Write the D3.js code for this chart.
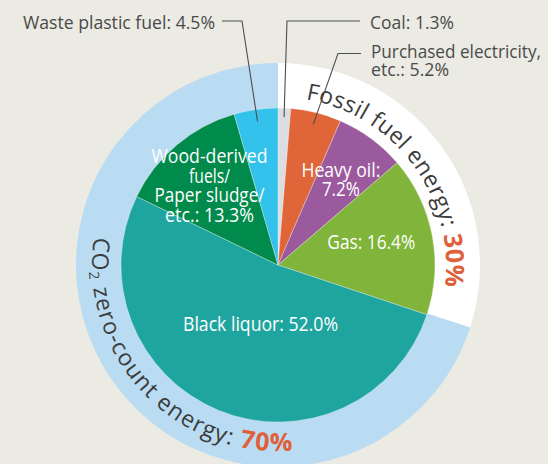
<!DOCTYPE html>
<html>
<head>
<meta charset="utf-8">
<script src="https://cdn.jsdelivr.net/npm/d3@7"></script>
<style>
  body { margin: 0; background: #ebeae3; }
  svg { display: block; font-family: "Open Sans", sans-serif; }
</style>
</head>
<body>
<script>
// energy sources (%), clockwise from 12 o'clock
const sources = ["Coal", "Purchased electricity, etc.", "Heavy oil", "Gas", "Black liquor", "Wood-derived fuels/Paper sludge/etc.", "Waste plastic fuel"];
const shares = [1.3, 5.2, 7.2, 16.4, 52.0, 13.3, 4.5];
const sourceColors = ["#dcdde0", "#e0663a", "#9a5a9d", "#80b43a", "#1fa5a0", "#008a4b", "#32c2ec"];

// outer ring groups (%)
const groups = ["Fossil fuel energy", "CO2 zero-count energy"];
const groupShares = [30, 70];
const groupColors = ["#ffffff", "#badcf3"];

const width = 548, height = 464;
const cx = 278, cy = 265;
const rPie = 157, rRing = 202;
const deg = Math.PI / 180;
const pct = v => d3.format(".1f")(v) + "%";

const svg = d3.select("body")
    .append("svg")
    .attr("width", width)
    .attr("height", height)

svg.append("rect")
    .attr("width", width)
    .attr("height", height)
    .attr("fill", "#ebeae3")

const g = svg.append("g")
    .attr("transform", "translate(" + cx + "," + cy + ")")

const pie = d3.pie().sort(null).value(d => d)

// outer ring
const ringArcs = pie(groupShares)
g.selectAll(".ring")
    .data(ringArcs)
    .enter()
    .append("path")
    .attr("class", "ring")
    .attr("d", d3.arc().innerRadius(rPie - 1).outerRadius(rRing))
    .attr("fill", (d, i) => groupColors[i])

// pie slices
const arcs = pie(shares)
g.selectAll(".slice")
    .data(arcs)
    .enter()
    .append("path")
    .attr("class", "slice")
    .attr("d", d3.arc().innerRadius(0).outerRadius(rPie))
    .attr("fill", (d, i) => sourceColors[i])
    .attr("stroke", "rgba(255,255,255,0.5)")
    .attr("stroke-width", 0.6)

const mid = d => (d.startAngle + d.endAngle) / 2

// labels inside slices: radius from centre, angle nudge (deg), width of each line
const insideLabels = [
    { i: 2, r: 106, nudge: 0, lines: ["Heavy oil:", pct(shares[2])], w: [79, 38] },
    { i: 3, r: 96, nudge: -2.5, lines: ["Gas: " + pct(shares[3])], w: [88] },
    { i: 4, r: 61.5, nudge: -5.6, lines: ["Black liquor: " + pct(shares[4])], w: [155] },
    { i: 5, r: 105, nudge: -0.5, lines: ["Wood-derived", "fuels/", "Paper sludge/", "etc.: " + pct(shares[5])], w: [116, 41, 110, 89] }
]
const lineH = 19.6

insideLabels.forEach(lab => {
    const [x, y] = d3.pointRadial(mid(arcs[lab.i]) + lab.nudge * deg, lab.r)
    const y0 = y - (lab.lines.length - 1) * lineH / 2 + 7
    lab.lines.forEach((t, k) => {
        g.append("text")
            .attr("x", x)
            .attr("y", y0 + k * lineH)
            .attr("text-anchor", "middle")
            .attr("font-size", 20)
            .attr("fill", "#ffffff")
            .attr("textLength", lab.w[k])
            .attr("lengthAdjust", "spacingAndGlyphs")
            .text(t)
    })
})

// callouts above the chart (absolute page coordinates)
const callouts = [
    { i: 6, r: 145, lines: ["Waste plastic fuel: " + pct(shares[6])], w: [192], tx: 215, ty: 29, anchor: "end", elbow: [242, 21], end: 222 },
    { i: 0, r: 148, lines: ["Coal: " + pct(shares[0])], w: [84], tx: 370, ty: 29, anchor: "start", elbow: [287, 21], end: 360 },
    { i: 1, r: 145, lines: ["Purchased electricity,", "etc.: " + pct(shares[1])], w: [170, 78], tx: 371, ty: 58, anchor: "start", elbow: [338, 53.5], end: 361 }
]

callouts.forEach(c => {
    const [px, py] = d3.pointRadial(mid(arcs[c.i]), c.r)
    svg.append("polyline")
        .attr("points", [[px + cx, py + cy], c.elbow, [c.end, c.elbow[1]]].map(p => p.join(",")).join(" "))
        .attr("fill", "none")
        .attr("stroke", "#4d4d4d")
        .attr("stroke-width", 1.1)
    c.lines.forEach((t, k) => {
        svg.append("text")
            .attr("x", c.tx)
            .attr("y", c.ty + k * 17.5)
            .attr("text-anchor", c.anchor)
            .attr("font-size", 19)
            .attr("fill", "#4a4a4a")
            .attr("textLength", c.w[k])
            .attr("lengthAdjust", "spacingAndGlyphs")
            .text(t)
    })
})

// ring captions on arcs
const arcPath = (r, a0, a1, sweep) => {
    const p0 = d3.pointRadial(a0 * deg, r), p1 = d3.pointRadial(a1 * deg, r)
    return "M" + p0 + "A" + r + "," + r + " 0 0 " + sweep + " " + p1
}

const defs = svg.append("defs")
defs.append("path").attr("id", "fossilPath").attr("d", arcPath(168, 0, 112, 1))
defs.append("path").attr("id", "co2Path").attr("d", arcPath(186, 292, 160, 0))

const fossil = g.append("text")
    .attr("font-size", 23)
    .attr("fill", "#3c3c3c")
    .attr("letter-spacing", 0.4)
    .append("textPath")
    .attr("href", "#fossilPath")
    .attr("startOffset", 9.5 * deg * 168)
fossil.append("tspan").text(groups[0] + ": ")
fossil.append("tspan")
    .attr("fill", "#e0603a")
    .attr("font-weight", "bold")
    .attr("font-size", 25)
    .text(groupShares[0] + "%")

const co2 = g.append("text")
    .attr("font-size", 23)
    .attr("fill", "#3c3c3c")
    .attr("letter-spacing", 1.2)
    .append("textPath")
    .attr("href", "#co2Path")
    .attr("startOffset", (292 - 278.7) * deg * 186)
co2.append("tspan").text("CO")
co2.append("tspan").attr("font-size", 14).attr("dy", 3).text("2")
co2.append("tspan").attr("dy", -3).text(" zero-count energy: ")
co2.append("tspan")
    .attr("fill", "#e0603a")
    .attr("font-weight", "bold")
    .attr("font-size", 25)
    .text(groupShares[1] + "%")
</script>
</body>
</html>
